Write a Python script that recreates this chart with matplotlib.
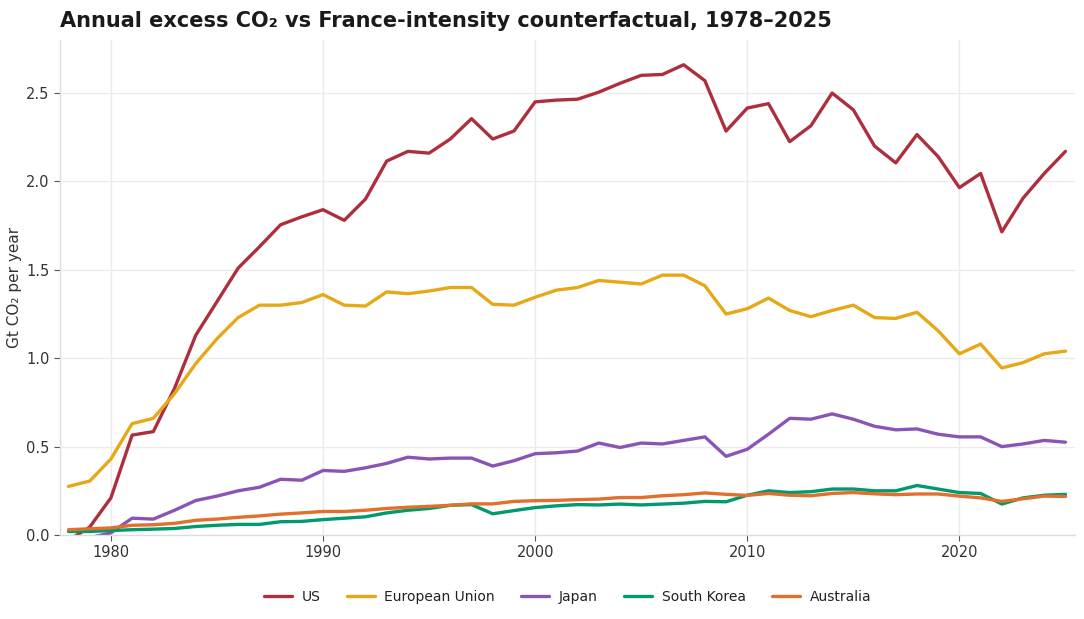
import matplotlib
matplotlib.use("Agg")
import matplotlib.pyplot as plt
import numpy as np

years = list(range(1978, 2026))

us = [-0.03, 0.045, 0.21, 0.565, 0.585, 0.83, 1.13, 1.32, 1.51, 1.63, 1.755, 1.80,
      1.84, 1.78, 1.90, 2.115, 2.17, 2.16, 2.24, 2.355, 2.24, 2.285,
      2.45, 2.46, 2.465, 2.505, 2.555, 2.60, 2.605, 2.66, 2.57, 2.285,
      2.415, 2.44, 2.225, 2.315, 2.50, 2.405, 2.20, 2.105, 2.265, 2.14,
      1.965, 2.045, 1.715, 1.905, 2.045, 2.17]

eu = [0.275, 0.305, 0.43, 0.63, 0.66, 0.80, 0.97, 1.11, 1.23, 1.30, 1.30, 1.315,
      1.36, 1.30, 1.295, 1.375, 1.365, 1.38, 1.40, 1.40, 1.305, 1.30,
      1.345, 1.385, 1.40, 1.44, 1.43, 1.42, 1.47, 1.47, 1.41, 1.25,
      1.28, 1.34, 1.27, 1.235, 1.27, 1.30, 1.23, 1.225, 1.26, 1.155,
      1.025, 1.08, 0.945, 0.975, 1.025, 1.04]

japan = [-0.04, -0.015, 0.012, 0.095, 0.09, 0.14, 0.195, 0.22, 0.25, 0.27, 0.315, 0.31,
         0.365, 0.36, 0.38, 0.405, 0.44, 0.43, 0.435, 0.435, 0.39, 0.42,
         0.46, 0.465, 0.475, 0.52, 0.495, 0.52, 0.515, 0.535, 0.555, 0.445,
         0.485, 0.57, 0.66, 0.655, 0.685, 0.655, 0.615, 0.595, 0.60, 0.57,
         0.555, 0.555, 0.50, 0.515, 0.535, 0.525]

south_korea = [0.02, 0.02, 0.025, 0.03, 0.033, 0.037, 0.048, 0.055, 0.06, 0.06, 0.075, 0.077,
               0.087, 0.095, 0.103, 0.125, 0.14, 0.15, 0.168, 0.172, 0.12, 0.138,
               0.155, 0.165, 0.172, 0.17, 0.175, 0.17, 0.175, 0.18, 0.19, 0.188,
               0.225, 0.25, 0.24, 0.245, 0.26, 0.26, 0.25, 0.25, 0.28, 0.26,
               0.24, 0.235, 0.175, 0.21, 0.225, 0.23]

australia = [0.03, 0.035, 0.04, 0.055, 0.058, 0.066, 0.083, 0.09, 0.10, 0.108, 0.118, 0.125,
             0.133, 0.133, 0.14, 0.15, 0.157, 0.162, 0.168, 0.176, 0.176, 0.19,
             0.194, 0.196, 0.20, 0.203, 0.212, 0.212, 0.222, 0.228, 0.238, 0.23,
             0.224, 0.235, 0.225, 0.222, 0.235, 0.24, 0.233, 0.228, 0.232, 0.232,
             0.22, 0.21, 0.19, 0.205, 0.22, 0.218]

series_names = ["US", "European Union", "Japan", "South Korea", "Australia"]
series_values = [us, eu, japan, south_korea, australia]
colors = ["#ad2f3d", "#e6a817", "#8a54b6", "#009a6e", "#e0702b"]

plt.rcParams['font.family'] = ['DejaVu Sans']
fig = plt.figure(figsize=(10.84, 6.19), dpi=100)
ax = fig.add_axes([60/1084, 1-535/619, (1075-60)/1084, (535-40)/619])

for name, vals, c in zip(series_names, series_values, colors):
    ax.plot(years, vals, color=c, lw=2.4, label=name, solid_capstyle='round')

ax.set_xlim(1977.6, 2025.45)
ax.set_ylim(0, 2.8)
ax.set_xticks([1980, 1990, 2000, 2010, 2020])
ax.set_yticks([0, 0.5, 1.0, 1.5, 2.0, 2.5])
ax.set_yticklabels(["0.0", "0.5", "1.0", "1.5", "2.0", "2.5"])
ax.grid(True, color="#ebebeb", lw=1.0)
ax.set_axisbelow(True)
for s in ["top", "right"]:
    ax.spines[s].set_visible(False)
for s in ["left", "bottom"]:
    ax.spines[s].set_color("#dddddd")
    ax.spines[s].set_linewidth(1.0)
ax.tick_params(axis='both', colors="#555555", labelcolor="#333333", labelsize=10.5, length=4, width=0.8)
ax.set_ylabel("Gt CO₂ per year", fontsize=11, color="#333333", labelpad=3)

fig.text(60/1084, 1-27/619, "Annual excess CO₂ vs France-intensity counterfactual, 1978–2025",
         fontsize=15, fontweight='bold', color="#1a1a1a", ha='left', va='baseline')

leg = ax.legend(loc='upper center', bbox_to_anchor=(0.5, -0.085), ncol=5, frameon=False,
                fontsize=10, handlelength=2.0, columnspacing=1.9, handletextpad=0.7)
for t in leg.get_texts():
    t.set_color("#222222")

fig.savefig("out.png", dpi=100, facecolor="white")
